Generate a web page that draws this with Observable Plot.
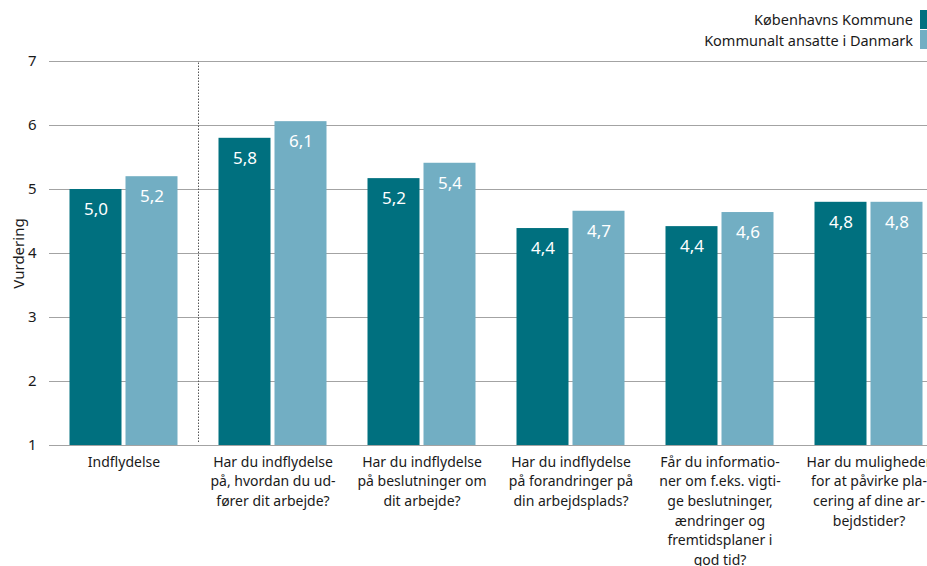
<!DOCTYPE html>
<html><head><meta charset="utf-8">
<script src="https://cdn.jsdelivr.net/npm/d3@7"></script>
<script src="https://cdn.jsdelivr.net/npm/@observablehq/plot@0.6"></script>
<style>
body{margin:0;overflow:hidden;background:#fff;font-family:"Noto Sans",sans-serif;}
#wrap{position:relative;width:927px;height:566px;overflow:hidden;}
#chart svg{max-width:none !important;}
#legend{position:absolute;right:0;top:9px;font-size:14.5px;color:#1a1a1a;z-index:2;}
.row{display:flex;justify-content:flex-end;align-items:center;height:20.5px;}
.sw{width:7px;height:19px;margin-left:7px;}
</style></head><body><div id="wrap"><div id="legend"></div><div id="chart"></div></div>
<script>
const groups = [
  "Indflydelse",
  "Har du indflydelse\npå, hvordan du ud-\nfører dit arbejde?",
  "Har du indflydelse\npå beslutninger om\ndit arbejde?",
  "Har du indflydelse\npå forandringer på\ndin arbejdsplads?",
  "Får du informatio-\nner om f.eks. vigti-\nge beslutninger,\nændringer og\nfremtidsplaner i\ngod tid?",
  "Har du muligheder\nfor at påvirke pla-\ncering af dine ar-\nbejdstider?"
];
const series = ["Københavns Kommune", "Kommunalt ansatte i Danmark"];
const kbh = [5.0, 5.8, 5.17, 4.39, 4.42, 4.8];
const dk = [5.2, 6.06, 5.41, 4.66, 4.64, 4.8];
const yTicks = [1, 2, 3, 4, 5, 6, 7];
const colors = ["#00707f", "#72aec3"];

const fmt = v => v.toFixed(1).replace(".", ",");
const dataK = groups.map((g, i) => ({group: g, series: series[0], value: kbh[i]}));
const dataD = groups.map((g, i) => ({group: g, series: series[1], value: dk[i]}));

const chart = Plot.plot({
  width: 943, height: 566,
  marginLeft: 49, marginRight: 0, marginTop: 61, marginBottom: 121,
  style: {fontFamily: "Noto Sans", fontSize: "14px", color: "#1a1a1a", background: "transparent", maxWidth: "none"},
  x: {domain: groups, padding: 0, axis: null},
  y: {domain: [1, 7]},
  color: {domain: series, range: colors},
  marks: [
    Plot.gridY(yTicks, {stroke: "#a3a3a3", strokeOpacity: 1}),
    Plot.ruleX([groups[1]], {dx: -74.5, y1: 1, y2: 7, insetTop: -3, stroke: "#555", strokeDasharray: "1.5,1.5", strokeWidth: 1}),
    Plot.barY(dataK, {x: "group", y1: 1, y2: "value", fill: "series", insetLeft: 20.5, insetRight: 76.5}),
    Plot.barY(dataD, {x: "group", y1: 1, y2: "value", fill: "series", insetLeft: 76.5, insetRight: 20.5}),
    Plot.text(dataK, {x: "group", y: "value", text: d => fmt(d.value), dx: -28, dy: 20, fill: "white", fontSize: 17}),
    Plot.text(dataD, {x: "group", y: "value", text: d => fmt(d.value), dx: 28, dy: 20, fill: "white", fontSize: 17}),
    Plot.axisY(yTicks, {tickSize: 0, tickPadding: 13, fontSize: 15, tickFormat: d => String(d), label: "Vurdering", labelAnchor: "center", labelArrow: "none", labelOffset: 36}),
    Plot.axisX({anchor: "bottom", tickSize: 0, tickPadding: 7, lineHeight: 1.41, fontSize: 14, label: null, tickFormat: d => d})
  ]
});
document.getElementById("chart").appendChild(chart);

const legend = document.getElementById("legend");
series.forEach((s, i) => {
  const row = document.createElement("div");
  row.className = "row";
  const t = document.createElement("span");
  t.textContent = s;
  const sw = document.createElement("span");
  sw.className = "sw";
  sw.style.background = colors[i];
  row.appendChild(t); row.appendChild(sw);
  legend.appendChild(row);
});
</script>
</body></html>
